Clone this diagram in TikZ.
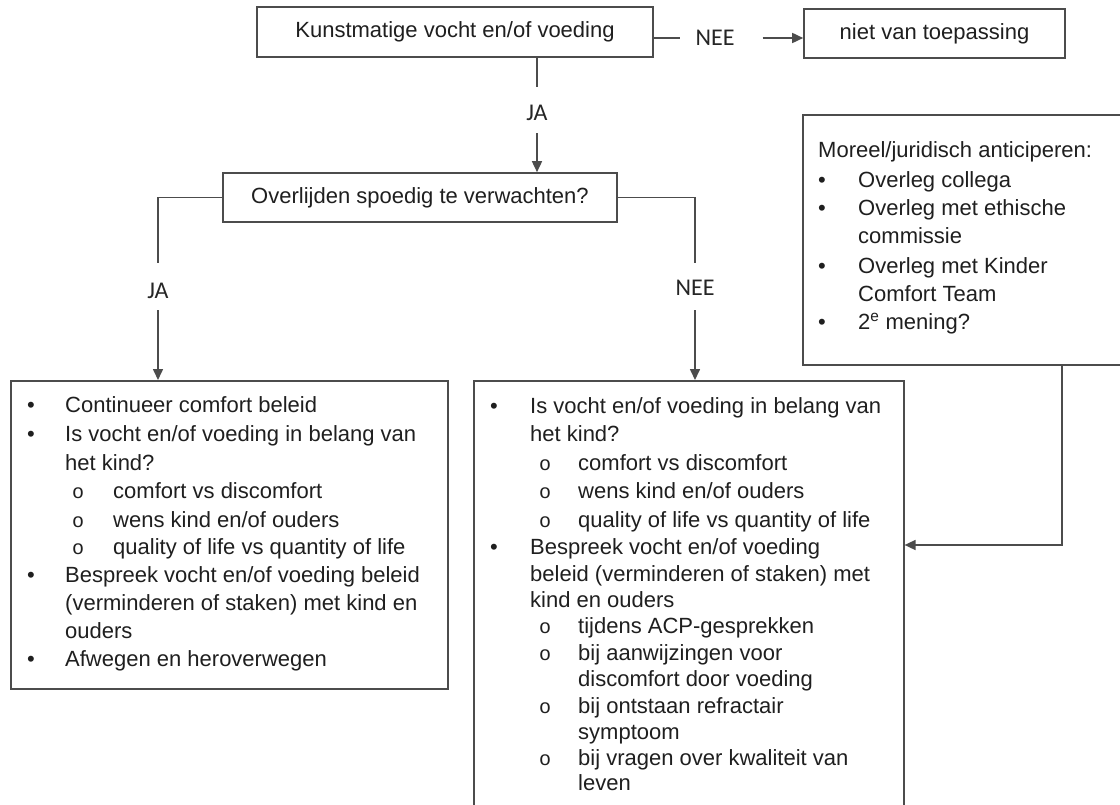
\documentclass[tikz,border=0pt]{standalone}
\usepackage{fontspec}
\setmainfont{Liberation Sans}
\newfontfamily\lblfont{Carlito}
\newfontfamily\circfont{Liberation Mono}
\usetikzlibrary{arrows.meta}
\begin{document}
\begin{tikzpicture}[x=1pt,y=-1pt,
  font=\fontsize{22}{26}\selectfont,
  box/.style={draw=black!70, line width=1.6pt, inner sep=0pt, text=black!88},
  conn/.style={draw=black!70, line width=1.6pt},
  arr/.style={conn, -{Triangle[length=11pt,width=10pt]}},
  txt/.style={anchor=west, inner sep=0pt, text height=15.5pt, text depth=4.5pt, text=black!88},
  sub/.style={txt, font=\circfont\fontsize{20}{26}\selectfont},
  lbl/.style={inner sep=0pt, font=\lblfont\fontsize{24}{24}\selectfont, text=black!85, text height=16pt, text depth=0pt}]
\clip (0,0) rectangle (1120,805);
\fill[white] (0,0) rectangle (1120,805);

% boxes
\node[box, minimum width=396pt, minimum height=50pt] (top) at (455,32) {Kunstmatige vocht en/of voeding};
\node[box, minimum width=261pt, minimum height=49pt] (niet) at (934.5,33.5) {niet van toepassing};
\node[box, minimum width=394pt, minimum height=49pt] (over) at (420,197.5) {Overlijden spoedig te verwachten?};
\node[box, anchor=north west, minimum width=437pt, minimum height=308pt] (left) at (10,380) {};
\node[box, anchor=north west, minimum width=430pt, minimum height=450pt] (mid) at (473,380) {};
\node[box, anchor=north west, minimum width=340pt, minimum height=250pt] (moreel) at (802,114) {};

% labels
\node[lbl] (nee1) at (715,38) {NEE};
\node[lbl] (ja1) at (537,113) {JA};
\node[lbl] (ja2) at (158,291) {JA};
\node[lbl] (nee2) at (695,288) {NEE};

% connectors
\draw[conn] (top.east |- nee1) -- ([xshift=-15pt]nee1.west);
\draw[arr] ([xshift=28pt]nee1.east) -- (nee1 -| niet.west);
\draw[conn] (top.south -| ja1) -- ([yshift=18pt]ja1.north);
\draw[arr] ([yshift=-12pt]ja1.south) -- (ja1 |- over.north);
\draw[conn] (over.west) -| ([yshift=20pt]ja2.north);
\draw[arr] ([yshift=-11pt]ja2.south) -- (ja2 |- left.north);
\draw[conn] (over.east) -| ([yshift=17pt]nee2.north);
\draw[arr] ([yshift=-14pt]nee2.south) -- (nee2 |- mid.north);
\coordinate (bend) at (1062,545);
\draw[arr] (moreel.south -| bend) -- (bend) -- (bend -| mid.east);

% left box text
\node[txt] (lb1) at (27,407) {•};
\node[txt] (lt1) at (65,407) {Continueer comfort beleid};
\node[txt] (lb2) at (27,436) {•};
\node[txt] (lt2) at (65,436) {Is vocht en/of voeding in belang van};
\node[txt] (lt3) at (65,465) {het kind?};
\node[sub] (ls1) at (72,493) {o};
\node[txt] (lt4) at (113,493) {comfort vs discomfort};
\node[sub] (ls2) at (72,522) {o};
\node[txt] (lt5) at (113,522) {wens kind en/of ouders};
\node[sub] (ls3) at (72,549) {o};
\node[txt] (lt6) at (113,549) {quality of life vs quantity of life};
\node[txt] (lb3) at (27,577) {•};
\node[txt] (lt7) at (65,577) {Bespreek vocht en/of voeding beleid};
\node[txt] (lt8) at (65,605) {(verminderen of staken) met kind en};
\node[txt] (lt9) at (65,633) {ouders};
\node[txt] (lb4) at (27,661) {•};
\node[txt] (lt10) at (65,661) {Afwegen en heroverwegen};

% middle box text
\node[txt] (mb1) at (490,408) {•};
\node[txt] (mt1) at (530,408) {Is vocht en/of voeding in belang van};
\node[txt] (mt2) at (530,436) {het kind?};
\node[sub] (ms1) at (539,465) {o};
\node[txt] (mt3) at (578,465) {comfort vs discomfort};
\node[sub] (ms2) at (539,493) {o};
\node[txt] (mt4) at (578,493) {wens kind en/of ouders};
\node[sub] (ms3) at (539,522) {o};
\node[txt] (mt5) at (578,522) {quality of life vs quantity of life};
\node[txt] (mb2) at (490,549) {•};
\node[txt] (mt6) at (530,549) {Bespreek vocht en/of voeding};
\node[txt] (mt7) at (530,576) {beleid (verminderen of staken) met};
\node[txt] (mt8) at (530,602) {kind en ouders};
\node[sub] (ms4) at (539,628) {o};
\node[txt] (mt9) at (578,628) {tijdens ACP-gesprekken};
\node[sub] (ms5) at (539,655) {o};
\node[txt] (mt10) at (578,655) {bij aanwijzingen voor};
\node[txt] (mt11) at (578,681) {discomfort door voeding};
\node[sub] (ms6) at (539,708) {o};
\node[txt] (mt12) at (578,708) {bij ontstaan refractair};
\node[txt] (mt13) at (578,734) {symptoom};
\node[sub] (ms7) at (539,760) {o};
\node[txt] (mt14) at (578,760) {bij vragen over kwaliteit van};
\node[txt] (mt15) at (578,785) {leven};

% moreel box text
\node[txt] (rt0) at (818,152) {Moreel/juridisch anticiperen:};
\node[txt] (rb1) at (818,182) {•};
\node[txt] (rt1) at (858,182) {Overleg collega};
\node[txt] (rb2) at (818,210) {•};
\node[txt] (rt2) at (858,210) {Overleg met ethische};
\node[txt] (rt3) at (858,238) {commissie};
\node[txt] (rb3) at (818,268) {•};
\node[txt] (rt4) at (858,268) {Overleg met Kinder};
\node[txt] (rt5) at (858,296) {Comfort Team};
\node[txt] (rb4) at (818,324) {•};
\node[txt] (rt6) at (858,324) {2\textsuperscript{e} mening?};
\end{tikzpicture}
\end{document}
